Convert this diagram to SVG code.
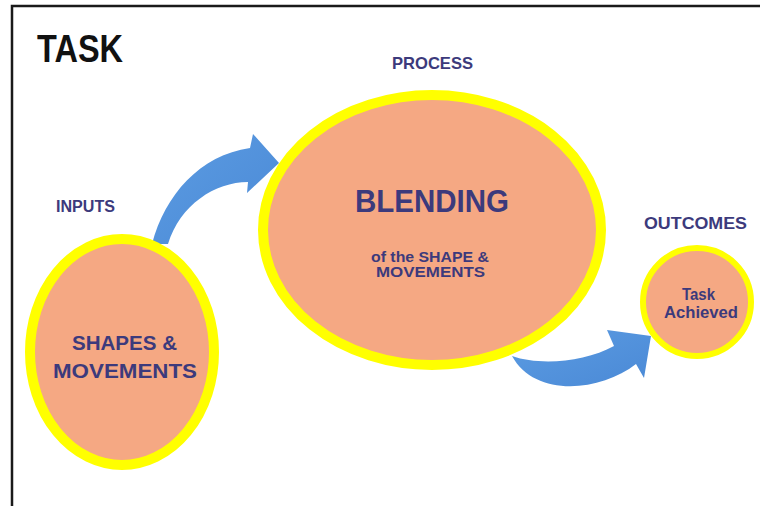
<svg xmlns="http://www.w3.org/2000/svg" width="760" height="506" viewBox="0 0 760 506">
  <style>
    .frame { fill: none; stroke: #1a1a1a; stroke-width: 2.5; }
    .bubble { fill: #F5A883; stroke: #FFFF00; }
    .lbl { font-family: "Liberation Sans", Arial, sans-serif; font-weight: bold; fill: #3C3A7C; text-anchor: middle; }
    .title { font-family: "Liberation Sans", Arial, sans-serif; font-weight: bold; fill: #111111; }
    .flow { fill: url(#blueGrad); }
  </style>
  <defs>
    <linearGradient id="blueGrad" x1="0" y1="0" x2="1" y2="1">
      <stop offset="0" stop-color="#5C9CE2"/>
      <stop offset="1" stop-color="#4A89D6"/>
    </linearGradient>
  </defs>

  <rect width="760" height="506" fill="#ffffff"/>
  <!-- frame (top and left edges) -->
  <path class="frame" d="M 760 6 H 12 V 506"/>

  <text class="title" x="37" y="62" font-size="38" textLength="86" lengthAdjust="spacingAndGlyphs">TASK</text>

  <!-- stage headings -->
  <text class="lbl" x="85.5" y="212" font-size="16" textLength="59" lengthAdjust="spacingAndGlyphs">INPUTS</text>
  <text class="lbl" x="432.5" y="69" font-size="17" textLength="81" lengthAdjust="spacingAndGlyphs">PROCESS</text>
  <text class="lbl" x="695.5" y="229" font-size="17" textLength="103" lengthAdjust="spacingAndGlyphs">OUTCOMES</text>

  <!-- connectors -->
  <g id="connectors">
    <path class="flow" d="M 152 244 C 165 195, 200 155, 250 148 L 253 134 L 279 163 L 247 193 L 248 182 C 215 182, 180 205, 168 244 Z"/>
    <path class="flow" d="M 512 356 C 540 366, 585 362, 614 346 L 607 330 L 651 336 L 644 378 L 636 364 C 600 392, 535 398, 512 356 Z"/>
  </g>

  <!-- inputs node -->
  <g id="inputs">
    <ellipse class="bubble" cx="122" cy="352" rx="92" ry="113" stroke-width="10"/>
    <text class="lbl" x="124.5" y="350" font-size="20" textLength="105" lengthAdjust="spacingAndGlyphs">SHAPES &amp;</text>
    <text class="lbl" x="125" y="378" font-size="20" textLength="144" lengthAdjust="spacingAndGlyphs">MOVEMENTS</text>
  </g>

  <!-- process node -->
  <g id="process">
    <ellipse class="bubble" cx="432" cy="230" rx="169" ry="135" stroke-width="10"/>
    <text class="lbl" x="432" y="212" font-size="32" textLength="154" lengthAdjust="spacingAndGlyphs">BLENDING</text>
    <text class="lbl" x="430" y="262" font-size="14" textLength="118" lengthAdjust="spacingAndGlyphs">of the SHAPE &amp;</text>
    <text class="lbl" x="430.5" y="277" font-size="14" textLength="109" lengthAdjust="spacingAndGlyphs">MOVEMENTS</text>
  </g>

  <!-- outcome node -->
  <g id="outcome">
    <circle class="bubble" cx="697" cy="302" r="54" stroke-width="6"/>
    <text class="lbl" x="698.5" y="300" font-size="16" textLength="33" lengthAdjust="spacingAndGlyphs">Task</text>
    <text class="lbl" x="701" y="318" font-size="16" textLength="74" lengthAdjust="spacingAndGlyphs">Achieved</text>
  </g>
</svg>
